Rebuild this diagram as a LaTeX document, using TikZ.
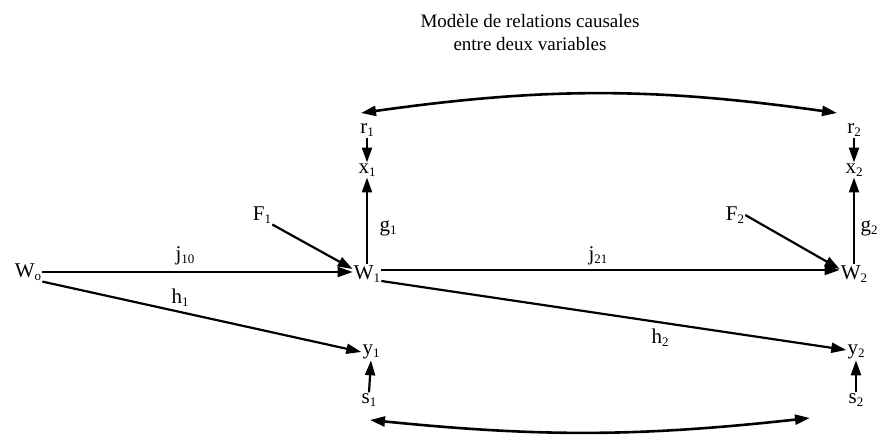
\documentclass[tikz,border=0pt]{standalone}
\usepackage{fontspec}
\setmainfont{Liberation Serif}
\usetikzlibrary{arrows.meta}
\newcommand\subs[1]{\raisebox{-0.3ex}{\fontsize{13}{14}\selectfont #1}}
\begin{document}
\begin{tikzpicture}[x=1pt,y=-1pt,
  lbl/.style={inner sep=1pt,font=\fontsize{21}{24}\selectfont},
  ttl/.style={inner sep=1pt,font=\fontsize{19}{23}\selectfont,align=center},
  arr/.style={line width=2.2pt,-{Triangle[length=15pt,width=10pt]}},
  darr/.style={line width=2.6pt,{Triangle[length=15pt,width=10pt]}-{Triangle[length=15pt,width=10pt]}}]
\useasboundingbox (0,0) rectangle (881,446);
\node[ttl] (title) at (530,32) {Modèle de relations causales\\entre deux variables};
\node[lbl] (W0) at (28,272) {W\subs{o}};
\node[lbl] (W1) at (367,274) {W\subs{1}};
\node[lbl] (W2) at (854,274) {W\subs{2}};
\node[lbl] (F1) at (262,215) {F\subs{1}};
\node[lbl] (F2) at (735,215) {F\subs{2}};
\node[lbl] (x1) at (367,170) {x\subs{1}};
\node[lbl] (x2) at (854,170) {x\subs{2}};
\node[lbl] (r1) at (367,130) {r\subs{1}};
\node[lbl] (r2) at (854,130) {r\subs{2}};
\node[lbl] (y1) at (371,352) {y\subs{1}};
\node[lbl] (y2) at (856,352) {y\subs{2}};
\node[lbl] (s1) at (369,400) {s\subs{1}};
\node[lbl] (s2) at (856,400) {s\subs{2}};
\node[lbl] (j10) at (185,256) {j\subs{10}};
\node[lbl] (h1) at (180,298) {h\subs{1}};
\node[lbl] (g1) at (388,228) {g\subs{1}};
\node[lbl] (j21) at (598,256) {j\subs{21}};
\node[lbl] (h2) at (660,338) {h\subs{2}};
\node[lbl] (g2) at (869,228) {g\subs{2}};
\coordinate (a1) at (361,113);
\coordinate (a2) at (837,113);
\coordinate (b1) at (370,420);
\coordinate (b2) at (810,418);
\draw[arr] (W0.east) -- ([yshift=2pt]W1.west);
\draw[arr] (W0.south east) -- (y1.west);
\draw[arr] (F1.south east) -- ([yshift=5pt]W1.west);
\draw[arr] (W1.north) -- (x1.south);
\draw[arr] (r1.south) -- (x1.north);
\draw[arr] ([yshift=4pt]W1.east) -- ([yshift=4pt]W2.west);
\draw[arr] ([yshift=-7pt]W1.east) -- ([yshift=2pt]y2.west);
\draw[arr] (F2.east) -- ([yshift=5pt]W2.west);
\draw[arr] (W2.north) -- (x2.south);
\draw[arr] (r2.south) -- (x2.north);
\draw[arr] (s1.north) -- (y1.south);
\draw[arr] (s2.north) -- (y2.south);
\draw[darr] (a1) to[bend left=8] (a2);
\draw[darr] (b1) to[bend right=6] (b2);
\end{tikzpicture}
\end{document}
